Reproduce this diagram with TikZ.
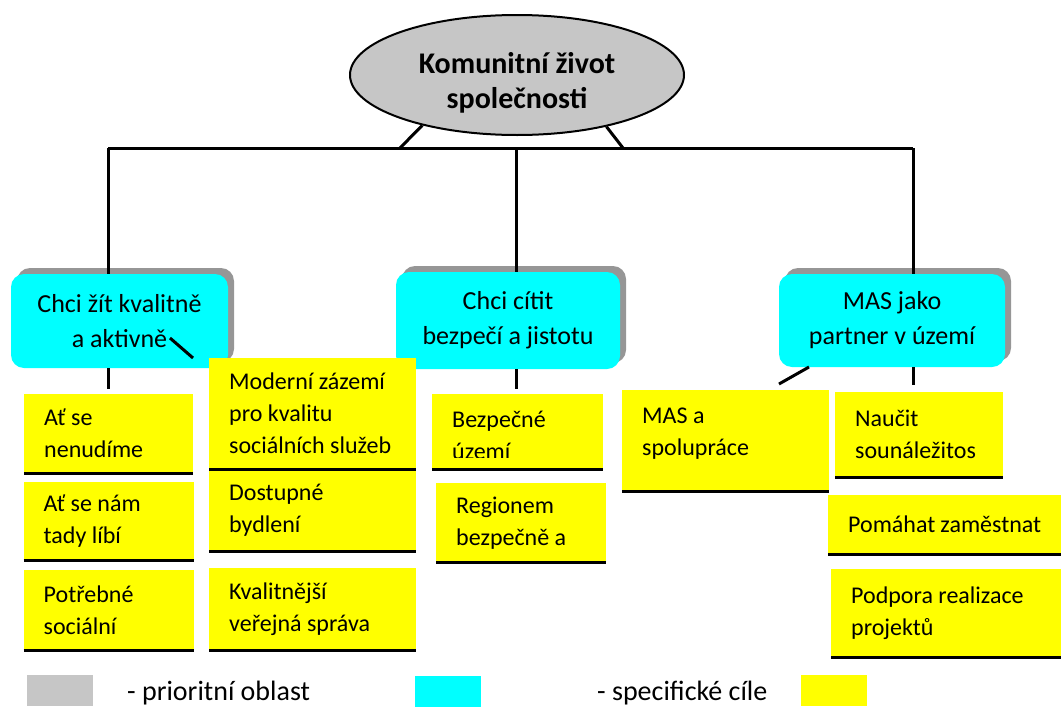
\documentclass[tikz,border=0pt]{standalone}
\usepackage{fontspec}
\setmainfont{Carlito}
\usetikzlibrary{positioning, shapes.geometric, shadows}

\definecolor{areagray}{RGB}{198,198,198}
\definecolor{aimcyan}{RGB}{0,255,255}
\definecolor{goalyellow}{RGB}{255,255,0}
\definecolor{shadowgray}{RGB}{150,150,150}

\begin{document}
\begin{tikzpicture}[
    x=1pt, y=-1pt,
    area/.style={ellipse, draw, line width=2pt, fill=areagray, minimum width=334pt, minimum height=120pt, inner sep=0pt, align=center, font=\fontsize{30}{35}\selectfont\bfseries},
    aim/.style={rectangle, rounded corners=13pt, fill=aimcyan, inner sep=0pt, align=center, font=\fontsize{26}{35}\selectfont,
        drop shadow={shadow xshift=6pt, shadow yshift=6pt, fill=shadowgray, opacity=1}},
    goal/.style={rectangle, fill=goalyellow, inner sep=0pt, align=flush left, font=\fontsize{24}{32}\selectfont},
    key/.style={rectangle, inner sep=0pt, minimum width=66pt, minimum height=31pt, anchor=north west},
    keytext/.style={anchor=base west, inner sep=0pt, font=\fontsize{28}{30}\selectfont},
    bar/.style={line width=3pt},
    base/.style={line width=3.2pt}
]
\useasboundingbox (0,0) rectangle (1061,707);

% Priority area
\node[area, text height=72pt] (root) at (517,75) {Komunitní život\\společnosti};

% Specific aims
\node[aim, minimum width=217pt, minimum height=94pt] (a1) at (119.5,321) {Chci žít kvalitně\\a aktivně};
\node[aim, minimum width=224pt, minimum height=97pt] (a2) at (508,320.5) {Chci cítit\\bezpečí a jistotu};
\node[aim, minimum width=226pt, minimum height=93pt] (a3) at (892,320.5) {MAS jako\\partner v území};

% Goals under a1
\node[goal, anchor=north west, minimum width=169pt, minimum height=79pt, text width=129pt] (g11) at (24,394) {Ať se\\nenudíme};
\node[goal, minimum width=170pt, minimum height=79pt, text width=130pt, below=8pt of g11] (g12) {Ať se nám\\tady líbí};
\node[goal, minimum width=170pt, minimum height=80pt, text width=130pt, below=9pt of g12] (g13) {Potřebné\\sociální};
\node[goal, anchor=north west, minimum width=207pt, minimum height=111pt, text width=167pt] (g21) at (209,358) {Moderní zázemí\\pro kvalitu\\sociálních služeb};
\node[goal, minimum width=207pt, minimum height=82pt, text width=167pt, below=0pt of g21] (g22) {Dostupné\\bydlení};
\node[goal, minimum width=207pt, minimum height=82pt, text width=167pt, below=16pt of g22] (g23) {Kvalitnější\\veřejná správa};

% Goals under a2
\node[goal, anchor=north west, minimum width=171pt, minimum height=75pt] (g31) at (432,394) {};
\begin{scope}
  \clip (g31.north west) rectangle ([yshift=12pt]g31.south east);
  \node[goal, minimum width=171pt, minimum height=75pt, text width=131pt, yshift=-4pt] (g31t) at (g31.center) {Bezpečné\\území};
\end{scope}
\node[goal, anchor=north west, minimum width=170pt, minimum height=79pt, text width=130pt] (g32) at (436,483) {Regionem\\bezpečně a};

% Goals under a3
\node[goal, anchor=north west, minimum width=207pt, minimum height=101pt, text width=167pt, text depth=50pt] (g41) at (622,390) {MAS a\\spolupráce};
\node[goal, anchor=north west, minimum width=168pt, minimum height=85pt, text width=128pt] (g42) at (835,392) {Naučit\\sounáležitos};
\node[goal, anchor=north west, minimum width=233pt, minimum height=59pt, text width=193pt] (g43) at (828,495) {Pomáhat zaměstnat};
\node[goal, anchor=north west, minimum width=230pt, minimum height=88pt, text width=190pt] (g44) at (831,569) {Podpora realizace\\projektů};

\foreach \g in {g11,g12,g13,g21,g22,g23,g31,g32,g41,g42,g43,g44}
  \draw[base] (\g.south west) -- (\g.south east);

% Tree lines
\coordinate (busL) at (108,148);
\coordinate (busM) at (516,148);
\coordinate (busR) at (913,148);
\coordinate (tieL) at (400,148);
\coordinate (tieR) at (623,148);
\draw[bar] (busL) -- (busR);
\draw[bar] (root.208) -- (tieL);
\draw[bar] (root.330) -- (tieR);
\draw[bar] (busL) -- (busL |- a1.north);
\draw[bar] (busM) -- (busM |- a2.north);
\draw[bar] (busR) -- (busR |- a3.north);

\coordinate (nubL) at (170,338);
\coordinate (tipL) at (193,358);
\coordinate (nubR) at (809,367);
\coordinate (tipR) at (779,384);
\draw[bar, shorten >=5pt] (busL |- a1.south) -- (busL |- g11.north);
\draw[bar, shorten >=5pt] (busM |- a2.south) -- (busM |- g31.north);
\draw[bar, shorten >=7pt] (busR |- a3.south) -- (busR |- g42.north);
\draw[bar] (nubL) -- (tipL);
\draw[bar] (nubR) -- (tipR);

% Legend
\node[key, fill=areagray] (k1) at (27,675) {};
\node[keytext] (k1t) at (127,700) {- prioritní oblast};
\node[key, fill=aimcyan] (k2) at (415,676) {};
\node[keytext] (k2t) at (597,700) {- specifické cíle};
\node[key, fill=goalyellow] (k3) at (801,675) {};

\end{tikzpicture}
\end{document}
